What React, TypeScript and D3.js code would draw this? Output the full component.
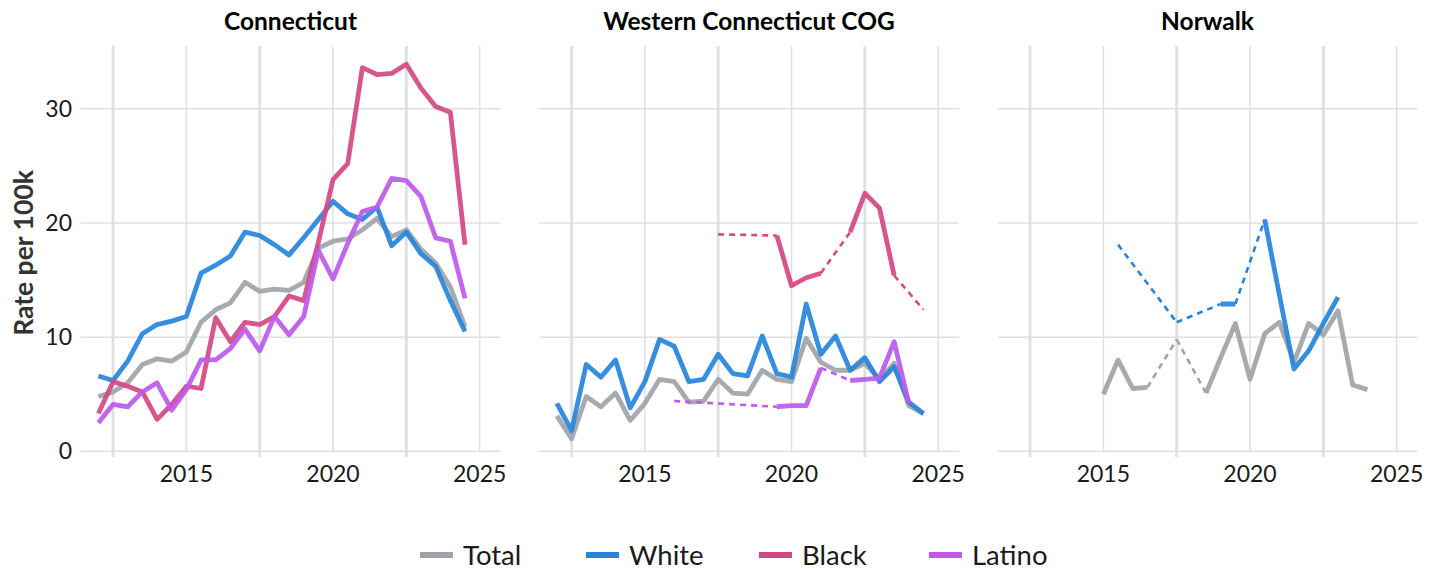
import React from 'react';
import * as d3 from 'd3';

// half-year periods
const periods = [
  2012, 2012.5, 2013, 2013.5, 2014, 2014.5, 2015, 2015.5, 2016, 2016.5, 2017, 2017.5, 2018,
  2018.5, 2019, 2019.5, 2020, 2020.5, 2021, 2021.5, 2022, 2022.5, 2023, 2023.5, 2024, 2024.5,
];

type V = number | null;
const _ = null;

const ctTotal: V[] = [4.8, 5.2, 6.0, 7.6, 8.1, 7.9, 8.7, 11.3, 12.4, 13.0, 14.8, 14.0, 14.2, 14.1, 14.8, 17.8, 18.4, 18.6, 19.4, 20.4, 18.8, 19.4, 17.7, 16.5, 14.4, 10.9];
const ctWhite: V[] = [6.6, 6.2, 7.9, 10.3, 11.1, 11.4, 11.8, 15.6, 16.3, 17.1, 19.2, 18.9, 18.1, 17.2, 18.7, 20.3, 21.9, 20.8, 20.3, 21.4, 18.0, 19.2, 17.3, 16.2, 13.2, 10.5];
const ctBlack: V[] = [3.3, 6.1, 5.7, 5.2, 2.8, 4.1, 5.7, 5.5, 11.7, 9.6, 11.3, 11.1, 11.8, 13.6, 13.2, 18.3, 23.8, 25.2, 33.6, 33.0, 33.1, 33.9, 31.8, 30.2, 29.7, 18.1];
const ctLatino: V[] = [2.5, 4.1, 3.9, 5.2, 6.0, 3.6, 5.4, 8.0, 8.0, 9.0, 10.7, 8.8, 11.8, 10.2, 11.8, 17.6, 15.1, 18.2, 21.0, 21.4, 23.9, 23.7, 22.3, 18.7, 18.4, 13.4];

const wcTotal: V[] = [3.1, 1.1, 4.8, 3.9, 5.1, 2.7, 4.2, 6.3, 6.1, 4.3, 4.4, 6.3, 5.1, 5.0, 7.1, 6.3, 6.1, 9.9, 7.8, 7.1, 7.1, 7.7, 6.3, 7.7, 4.0, 3.3];
const wcWhite: V[] = [4.2, 1.8, 7.6, 6.5, 8.0, 3.8, 6.1, 9.8, 9.2, 6.1, 6.3, 8.5, 6.8, 6.6, 10.1, 6.8, 6.5, 12.9, 8.5, 10.1, 7.1, 8.2, 6.1, 7.4, 4.3, 3.3];
const wcBlack: V[] = [_, _, _, _, _, _, _, _, _, _, _, 19.0, _, _, _, 18.9, 14.5, 15.2, 15.6, _, 19.2, 22.6, 21.3, 15.4, _, 12.4];
const wcLatino: V[] = [_, _, _, _, _, _, _, _, 4.4, _, _, _, _, _, _, 3.9, 4.0, 4.0, 7.3, _, 6.2, 6.3, 6.4, 9.6, 4.2, _];

const nwTotal: V[] = [_, _, _, _, _, _, 5.0, 8.0, 5.5, 5.6, _, 9.8, _, 5.1, 8.2, 11.2, 6.3, 10.3, 11.3, 7.8, 11.2, 10.2, 12.3, 5.8, 5.4, _];
const nwWhite: V[] = [_, _, _, _, _, _, _, 18.1, _, _, _, 11.3, _, _, 12.9, 12.9, _, 20.3, 13.7, 7.2, 8.8, 11.2, 13.5, _, _, _];
const nwBlack: V[] = periods.map(() => null);
const nwLatino: V[] = periods.map(() => null);

const groups = ['Total', 'White', 'Black', 'Latino'];
const colors = ['#a0a3a8', '#2784db', '#d44983', '#bd5aeb'];

const regions = ['Connecticut', 'Western Connecticut COG', 'Norwalk'];
const regionSeries: V[][][] = [
  [ctTotal, ctWhite, ctBlack, ctLatino],
  [wcTotal, wcWhite, wcBlack, wcLatino],
  [nwTotal, nwWhite, nwBlack, nwLatino],
];

const yTicks = [0, 10, 20, 30];
const xMajor = [2015, 2020, 2025];
const xMinor = [2012.5, 2017.5, 2022.5];

const W = 1441;
const H = 574;
const FONT = 'Lato, sans-serif';
const panelLeft = [80.5, 539, 997.5];
const panelW = 420;
const top = 46;
const bottom = 457;

const y = d3.scaleLinear().domain([-0.5, 35.5]).range([bottom, top]);

const Panel: React.FC<{ idx: number }> = ({ idx }) => {
  const x0 = panelLeft[idx];
  const x = d3.scaleLinear().domain([2011.39, 2025.71]).range([x0, x0 + panelW]);
  const solid = d3
    .line<V>()
    .defined((d) => d != null)
    .x((_d, i) => x(periods[i]))
    .y((d) => y(d as number));

  return (
    <g>
      <text x={x0 + panelW / 2} y={30} textAnchor="middle" fontWeight="bold" fontSize={24.5} fontFamily={FONT}>
        {regions[idx]}
      </text>
      {yTicks.map((t) => (
        <line key={'h' + t} x1={x0} x2={x0 + panelW} y1={y(t)} y2={y(t)} stroke="#e0e0e0" strokeWidth={1.5} />
      ))}
      {xMajor.map((t) => (
        <line key={'v' + t} x1={x(t)} x2={x(t)} y1={top} y2={y(0)} stroke="#e0e0e0" strokeWidth={1.5} />
      ))}
      {xMinor.map((t) => (
        <line key={'m' + t} x1={x(t)} x2={x(t)} y1={top} y2={bottom} stroke="#e0e0e0" strokeWidth={2.8} />
      ))}
      {xMajor.map((t) => (
        <text key={'xt' + t} x={x(t)} y={482} textAnchor="middle" fontSize={23} fontFamily={FONT} fill="#1a1a1a">
          {t}
        </text>
      ))}
      {regionSeries[idx].map((vals, gi) => {
        // dashed connectors across missing periods
        const pts = vals.map((v, i) => ({ v, i })).filter((p) => p.v != null);
        const gaps: [number, number][] = [];
        for (let k = 1; k < pts.length; k++) {
          if (pts[k].i - pts[k - 1].i > 1) gaps.push([pts[k - 1].i, pts[k].i]);
        }
        return (
          <g key={groups[gi]}>
            {gaps.map(([a, b]) => (
              <line
                key={a}
                x1={x(periods[a])}
                y1={y(vals[a] as number)}
                x2={x(periods[b])}
                y2={y(vals[b] as number)}
                stroke={colors[gi]}
                strokeWidth={2.6}
                strokeDasharray="6,5"
              />
            ))}
            <path
              d={solid(vals) || ''}
              fill="none"
              stroke={colors[gi]}
              strokeWidth={4.8}
              strokeLinejoin="round"
              strokeOpacity={0.92}
            />
          </g>
        );
      })}
    </g>
  );
};

const legendX = [420, 586, 759, 929];

export default function App() {
  return (
    <svg width={W} height={H} style={{ position: 'absolute', left: 0, top: 0, background: '#fff' }}>
      {yTicks.map((t) => (
        <text key={t} x={72} y={y(t) + 8} textAnchor="end" fontSize={23} fontFamily={FONT} fill="#1a1a1a">
          {t}
        </text>
      ))}
      <text
        transform={`translate(33,${253}) rotate(-90)`}
        textAnchor="middle"
        fontWeight="bold"
        fontSize={26.5}
        fontFamily={FONT}
        fill="#333"
      >
        Rate per 100k
      </text>
      {regions.map((r, i) => (
        <Panel key={r} idx={i} />
      ))}
      {groups.map((g, i) => (
        <g key={g}>
          <line x1={legendX[i]} x2={legendX[i] + 33} y1={555} y2={555} stroke={colors[i]} strokeWidth={6} />
          <text x={legendX[i] + 43} y={565} fontSize={27.5} fontFamily={FONT} fill="#1a1a1a">
            {g}
          </text>
        </g>
      ))}
    </svg>
  );
}
